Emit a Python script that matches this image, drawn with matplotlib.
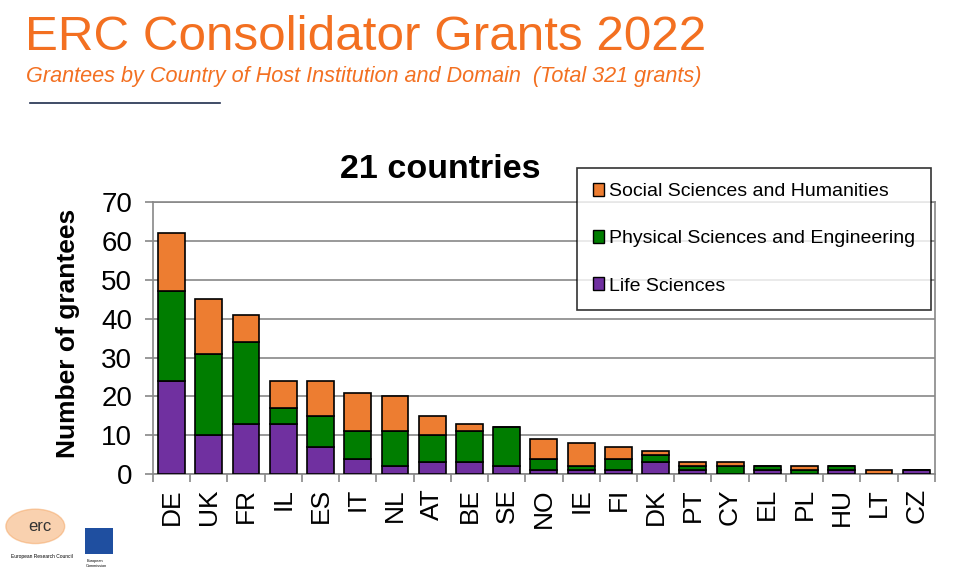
import matplotlib.pyplot as plt
from matplotlib.patches import Patch, Rectangle
import numpy as np

plt.rcParams['font.family'] = ['Liberation Sans', 'DejaVu Sans']

countries = ["DE", "UK", "FR", "IL", "ES", "IT", "NL", "AT", "BE", "SE", "NO",
             "IE", "FI", "DK", "PT", "CY", "EL", "PL", "HU", "LT", "CZ"]
life_sci = [24, 10, 13, 13, 7, 4, 2, 3, 3, 2, 1, 1, 1, 3, 1, 0, 1, 0, 1, 0, 1]
phys_eng = [23, 21, 21, 4, 8, 7, 9, 7, 8, 10, 3, 1, 3, 2, 1, 2, 1, 1, 1, 0, 0]
soc_hum = [15, 14, 7, 7, 9, 10, 9, 5, 2, 0, 5, 6, 3, 1, 1, 1, 0, 1, 0, 1, 0]

ORANGE = "#ED7D31"
GREEN = "#007D00"
PURPLE = "#7030A0"
TITLE_ORANGE = "#F37021"

fig = plt.figure(figsize=(9.8, 5.74), dpi=100)
ax = fig.add_axes([0.156, 0.174, 0.798, 0.474])

x = np.arange(len(countries))
ls = np.array(life_sci)
pe = np.array(phys_eng)
sh = np.array(soc_hum)
w = 0.72
ax.bar(x, ls, w, color=PURPLE, edgecolor="black", linewidth=1.2, zorder=3)
ax.bar(x, pe, w, bottom=ls, color=GREEN, edgecolor="black", linewidth=1.2, zorder=3)
ax.bar(x, sh, w, bottom=ls + pe, color=ORANGE, edgecolor="black", linewidth=1.2, zorder=3)

ax.set_xlim(-0.5, len(countries) - 0.5)
ax.set_ylim(0, 70)
ax.set_yticks(range(0, 71, 10))
ax.yaxis.grid(True, color="#888888", linewidth=1.2, zorder=0)
ax.tick_params(axis="y", labelsize=20, length=6, color="#888888", width=1.2, pad=9)

ax.set_xticks(x)
ax.set_xticklabels(countries, rotation=90, fontsize=19)
ax.tick_params(axis="x", length=0, pad=10)
ax.set_xticks(np.arange(-0.5, len(countries), 1), minor=True)
ax.tick_params(axis="x", which="minor", length=6, color="#888888", width=1.2)

for s in ["left", "bottom", "top", "right"]:
    ax.spines[s].set_color("#888888")
    ax.spines[s].set_linewidth(1.2)

fig.text(0.069, 0.42, "Number of grantees", rotation=90, fontsize=19,
         fontweight="bold", ha="center", va="center")
fig.text(0.449, 0.705, "21 countries", fontsize=24.5, fontweight="bold",
         ha="center", va="center")

# legend
handles = [Patch(facecolor=ORANGE, edgecolor="black", label="Social Sciences and Humanities"),
           Patch(facecolor=GREEN, edgecolor="black", label="Physical Sciences and Engineering"),
           Patch(facecolor=PURPLE, edgecolor="black", label="Life Sciences")]
leg = fig.legend(handles=handles, loc="upper left", bbox_to_anchor=(0.589, 0.708),
                 fontsize=14, frameon=True, fancybox=False, handlelength=0.6,
                 handleheight=0.6, handletextpad=0.25, labelspacing=1.55,
                 borderpad=0.8, borderaxespad=0)
leg.get_frame().set_edgecolor("black")
leg.get_frame().set_linewidth(1.2)

# header
fig.text(0.026, 0.935, "ERC Consolidator Grants 2022", fontsize=35.6,
         color=TITLE_ORANGE, ha="left", va="center")
fig.text(0.027, 0.867, "Grantees by Country of Host Institution and Domain  (Total 321 grants)",
         fontsize=15.6, color=TITLE_ORANGE, style="italic", ha="left", va="center")
fig.add_artist(plt.Line2D([0.031, 0.224], [0.821, 0.821], color="#1F2D4D", linewidth=1.2))

# logos (rough)
fig.add_artist(plt.Circle((0.036, 0.083), 0.03, transform=fig.transFigure,
                          color="#F4A460", alpha=0.5))
fig.text(0.041, 0.083, "erc", fontsize=12, color="#333333", ha="center", va="center")
fig.text(0.043, 0.03, "European Research Council", fontsize=3.5, ha="center", va="center")
fig.add_artist(Rectangle((0.087, 0.035), 0.028, 0.045, transform=fig.transFigure,
                         facecolor="#1F4FA0", edgecolor="none"))
fig.text(0.088, 0.018, "European\nCommission", fontsize=2.8, ha="left", va="center")

fig.savefig("out.png", dpi=100, facecolor="white")
